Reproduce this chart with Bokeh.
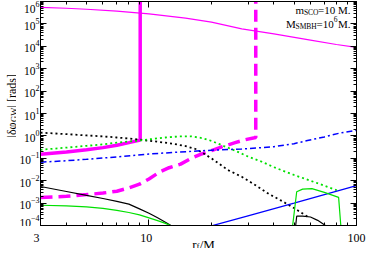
import math
from bokeh.plotting import figure
from bokeh.layouts import row, column
from bokeh.models import (LogAxis, FixedTicker, Range1d, LogScale,
                          CustomJSTickFormatter)
from bokeh.core.properties import value
from bokeh.embed import file_html
from bokeh.resources import INLINE

# ---------------- data ----------------
X_RANGE = (3, 100)
Y_RANGE = (1e-4, 1e6)
X_TICKS = [3, 10, 100]
X_LABELS = ["3", "10", "100"]
X_MINOR = [4, 5, 6, 7, 8, 9, 20, 30, 40, 50, 60, 70, 80, 90]
Y_DECADES = list(range(-4, 7))

# magenta thin solid
r_mag_thin = [3, 4, 5, 7, 10, 15, 20, 28, 40, 60, 80, 100]
v_mag_thin = [5.5e5, 5e5, 4.5e5, 3.7e5, 2.8e5, 1.8e5, 1.2e5, 6e4, 3.6e4, 1.9e4, 1.2e4, 9e3]

# magenta thick solid (rises, then vertical at r ~ 9.07)
r_mag_thick = [3, 4, 5, 6, 7, 8, 9.07, 9.07]
v_mag_thick = [0.15, 0.19, 0.24, 0.3, 0.38, 0.5, 0.65, 1e8]

# magenta thick dashed (rises, then vertical at r ~ 32.7)
r_mag_dash = [3, 4, 5, 6, 7, 8, 9, 10, 11.3, 12.5, 14.2, 16, 17.7, 20, 22.6, 26, 29, 32.7, 32.7]
v_mag_dash = [1.8e-3, 2e-3, 2.4e-3, 2.8e-3, 3.4e-3, 4.8e-3, 7e-3, 0.012, 0.025, 0.038,
              0.055, 0.1, 0.15, 0.22, 0.33, 0.5, 0.67, 0.85, 1e8]

# black dotted
r_blk_dot = [3, 4, 5, 6, 7, 8, 9, 11, 13, 15, 17, 20, 24, 28, 32, 38, 44, 50, 58]
v_blk_dot = [1.4, 1.2, 1.05, 0.95, 0.85, 0.76, 0.68, 0.55, 0.45, 0.35, 0.25, 0.1, 0.03,
             0.015, 7e-3, 2.5e-3, 1.2e-3, 6e-4, 2.5e-4]

# green dotted
r_grn_dot = [3, 4, 5, 6, 7, 8, 9, 10, 12, 14, 16, 18, 20, 23, 26, 30, 35, 40, 50, 60, 70, 82]
v_grn_dot = [0.24, 0.3, 0.36, 0.42, 0.5, 0.56, 0.62, 0.7, 0.85, 0.95, 0.95, 0.8, 0.6, 0.35,
             0.22, 0.12, 0.07, 0.04, 0.018, 0.01, 0.006, 0.0035]

# blue dash-dot
r_blu_dd = [3, 4, 5, 7, 10, 14, 20, 28, 35, 40, 50, 58, 70, 82, 100]
v_blu_dd = [0.067, 0.078, 0.09, 0.115, 0.155, 0.19, 0.23, 0.26, 0.3, 0.33, 0.45, 0.62, 0.9, 1.3, 1.8]

# black solid (left)
r_blk_l = [3, 4, 5, 6, 7, 8, 9, 10, 11, 12, 13]
v_blk_l = [5.5e-3, 3.3e-3, 2.2e-3, 1.6e-3, 1.2e-3, 9e-4, 5.5e-4, 3.5e-4, 2.2e-4, 1.4e-4, 9e-5]

# green solid (left)
r_grn_l = [3, 4, 5, 6, 7, 8, 9, 10, 11, 12, 13]
v_grn_l = [8e-4, 7.5e-4, 6.8e-4, 5.8e-4, 4.7e-4, 3.8e-4, 3e-4, 2.2e-4, 1.65e-4, 1.25e-4, 9e-5]

# blue solid (right)
r_blu_r = [20, 30, 50, 70, 100]
v_blu_r = [9.6e-5, 2.7e-4, 1.0e-3, 2.4e-3, 6e-3]

# green solid (right)
r_grn_r = [48.8, 51.5, 55, 61, 70, 82, 84.5]
v_grn_r = [5e-5, 3.2e-3, 4.2e-3, 4.4e-3, 3e-3, 1.8e-3, 5e-5]

# black solid (right)
r_blk_r = [50.5, 51.5, 55, 60, 65, 72]
v_blk_r = [5e-5, 2.6e-4, 2.6e-4, 2.4e-4, 1.7e-4, 9e-5]

# ---------------- layout geometry ----------------
MAG = "#ff00ff"
GRN = "#00e000"
BLU = "#0000ff"
FONT = "Liberation Serif"

YSTRIP_W = 16          # strip holding the rotated y label
MAIN_W = 350
MAIN_H = 226
XSTRIP_H = 22          # strip holding x tick labels and x label
BORDER_L = 20
BORDER_R = 10
BORDER_T = 1
BORDER_B = 1

frame_w = MAIN_W - BORDER_L - BORDER_R
frame_h = MAIN_H - BORDER_T - BORDER_B
x_decades = math.log10(X_RANGE[1] / X_RANGE[0])
y_decades = math.log10(Y_RANGE[1] / Y_RANGE[0])
decade_px = frame_w / x_decades

# ---------------- main figure ----------------
p = figure(width=MAIN_W, height=MAIN_H, x_axis_type="log", y_axis_type="log",
           x_range=Range1d(*X_RANGE), y_range=Range1d(*Y_RANGE),
           output_backend="svg", toolbar_location=None,
           min_border_left=BORDER_L, min_border_right=BORDER_R,
           min_border_top=BORDER_T, min_border_bottom=BORDER_B)
p.frame_align = False
p.xgrid.visible = False
p.ygrid.visible = False
p.outline_line_color = "black"
p.outline_line_width = 1
p.background_fill_color = "white"
p.border_fill_color = "white"

xticker = FixedTicker(ticks=X_TICKS, minor_ticks=X_MINOR)
yticker = FixedTicker(ticks=[10.0 ** k for k in Y_DECADES],
                      minor_ticks=[m * 10.0 ** k for k in Y_DECADES[:-1] for m in range(2, 10)])

def style_axis(ax):
    ax.major_tick_in = 6
    ax.major_tick_out = 0
    ax.minor_tick_in = 3
    ax.minor_tick_out = 0
    ax.axis_line_color = "black"
    ax.major_tick_line_color = "black"
    ax.minor_tick_line_color = "black"
    ax.major_label_text_font = FONT
    ax.major_label_text_color = "black"

def hide_labels(ax):
    ax.formatter = CustomJSTickFormatter(code="return ''")
    ax.major_label_text_font_size = "0px"
    ax.major_label_standoff = 0

xa = p.xaxis[0]
xa.ticker = xticker
style_axis(xa)
hide_labels(xa)

ya = p.yaxis[0]
ya.ticker = yticker
style_axis(ya)
ya.major_label_text_font_size = "11.5px"
ya.major_label_standoff = 1

for loc, tk in (("above", xticker), ("right", yticker)):
    ax = LogAxis(ticker=tk)
    style_axis(ax)
    hide_labels(ax)
    p.add_layout(ax, loc)

# curves
p.line(r_mag_thin, v_mag_thin, color=MAG, line_width=1.2)
p.line(r_mag_thick, v_mag_thick, color=MAG, line_width=3.5)
p.line(r_mag_dash, v_mag_dash, color=MAG, line_width=3.5, line_dash="12 6")
p.line(r_blk_dot, v_blk_dot, color="black", line_width=1.8, line_dash="2 3")
p.line(r_grn_dot, v_grn_dot, color=GRN, line_width=1.8, line_dash="2 3")
p.line(r_blu_dd, v_blu_dd, color=BLU, line_width=1.5, line_dash="6 3 2 3")
p.line(r_blk_l, v_blk_l, color="black", line_width=1.2)
p.line(r_grn_l, v_grn_l, color=GRN, line_width=1.2)
p.line(r_blu_r, v_blu_r, color=BLU, line_width=1.2)
p.line(r_grn_r, v_grn_r, color=GRN, line_width=1.2)
p.line(r_blk_r, v_blk_r, color="black", line_width=1.2)


def txt(fig, text, x, y, size, align="left", angle=0.0):
    fig.text(x=[x], y=[y], text=[text], text_font=value(FONT),
             text_font_size=f"{size}px", text_color="black",
             text_align=align, text_baseline="alphabetic", angle=angle)

def in_frame(px, py):
    """pixel offsets from the main frame's bottom-left -> data coordinates"""
    return (X_RANGE[0] * 10 ** (px / decade_px),
            Y_RANGE[0] * 10 ** (py * y_decades / frame_h))

# annotation, top right (inside the frame)
R = 314
def ann(text, px, py, size):
    x, y = in_frame(px, py)
    txt(p, text, x, y, size, align="right")

ann("=10 M.", R, 216, 11)
ann("SCO", R - 32.5, 213.5, 7.5)
ann("m", R - 32.5 - 14.6, 216, 11)

ann("M.", R, 202, 11)
ann("6", R - 13.3, 206.5, 7.5)
ann("=10", R - 13.3 - 3.75, 202, 11)
ann("SMBH", R - 13.3 - 3.75 - 17.2, 199.5, 7.5)
ann("M", R - 13.3 - 3.75 - 17.2 - 21.3, 202, 11)


def text_strip(w, h, **kw):
    f = figure(width=w, height=h, x_axis_location=None, y_axis_location=None,
               min_border=0, toolbar_location=None, output_backend="svg", **kw)
    f.frame_align = False
    f.outline_line_color = None
    f.grid.visible = False
    f.background_fill_color = "white"
    f.border_fill_color = "white"
    return f

# y-axis label strip: |δφ_GW| [rads], rotated (1 data unit = 1 px)
YSTRIP_H = MAIN_H + XSTRIP_H
yfig = text_strip(YSTRIP_W, YSTRIP_H, x_range=Range1d(0, YSTRIP_W), y_range=Range1d(0, YSTRIP_H))
A = math.pi / 2
txt(yfig, "|δφ", 11.8, 111, 12, angle=A)
txt(yfig, "GW", 13.6, 126.5, 8.5, angle=A)
txt(yfig, "| [rads]", 11.8, 141, 12, angle=A)

# x strip: same log scale as the main frame, extended over the strip's full width
xs_start = X_RANGE[0] / 10 ** (BORDER_L / decade_px)
xs_end = X_RANGE[1] * 10 ** (BORDER_R / decade_px)
xfig = text_strip(MAIN_W, XSTRIP_H, x_axis_type="log",
                  x_range=Range1d(xs_start, xs_end), y_range=Range1d(0, XSTRIP_H))
xfig.x_scale = LogScale()
xfig.text(x=X_TICKS, y=10.8, text=X_LABELS, text_font=value(FONT),
          text_font_size="12px", text_align="center", text_baseline="alphabetic",
          text_color="black")

# x label r_f/M (positions in strip pixels converted to the strip's log scale)
def strip_x(px):
    return xs_start * 10 ** (px / decade_px)

txt(xfig, "r", strip_x(175.7), 4.5, 13)
txt(xfig, "f", strip_x(180.1), 2.3, 9)
txt(xfig, "/M", strip_x(183.2), 4.5, 13)

layout = row(yfig, column(p, xfig))
open("out.html", "w").write(file_html(layout, INLINE))
